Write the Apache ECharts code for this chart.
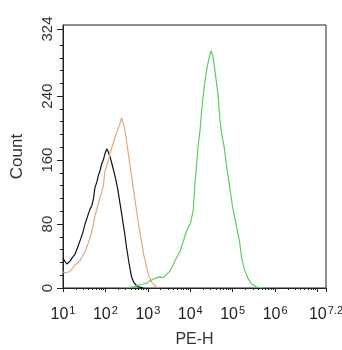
<!DOCTYPE html>
<html>
<head>
<meta charset="utf-8">
<style>
  html, body { margin: 0; padding: 0; background: #fff; }
  #main { width: 342px; height: 350px; }
</style>
</head>
<body>
<div id="main"></div>
<script src="https://cdn.jsdelivr.net/npm/echarts@6/dist/echarts.min.js"></script>
<script type="text/javascript">
    // x = decade exponent (PE-H = 10^x), y = count
    var blackX = [1.00, 1.05, 1.09, 1.13, 1.17, 1.22, 1.28, 1.34, 1.40, 1.46, 1.52, 1.57, 1.60, 1.64, 1.68, 1.72, 1.75, 1.80, 1.84, 1.87, 1.91, 1.95, 1.99, 2.03, 2.06, 2.11, 2.17, 2.23, 2.29, 2.34, 2.38, 2.42, 2.46, 2.50, 2.53, 2.56, 2.59, 2.62, 2.67, 2.74, 2.81, 2.89];
    var blackY = [37, 33, 30, 32, 34, 38, 42, 50, 59, 68, 80, 88, 93, 99, 103, 112, 125, 133, 142, 146, 155, 160, 168, 174, 171, 164, 152, 139, 124, 107, 94, 80, 66, 50, 40, 30, 21, 13, 7, 2.5, 1, 0];

    var orangeX = [1.00, 1.06, 1.12, 1.17, 1.23, 1.28, 1.34, 1.40, 1.46, 1.52, 1.58, 1.64, 1.70, 1.75, 1.81, 1.87, 1.91, 1.95, 1.99, 2.03, 2.07, 2.13, 2.19, 2.25, 2.30, 2.34, 2.38, 2.42, 2.46, 2.50, 2.54, 2.58, 2.62, 2.66, 2.70, 2.74, 2.78, 2.82, 2.86, 2.90, 2.94, 2.98, 3.02, 3.09, 3.17, 3.24];
    var orangeY = [20, 19, 20, 21, 25, 29, 31, 34, 40, 45, 54, 63, 76, 89, 101, 113, 119, 128, 147, 152, 160, 172, 182, 192, 200, 205, 213, 206, 197, 183, 168, 153, 139, 124, 109, 95, 80, 67, 55, 42, 34, 24, 16, 7, 2.5, 0];

    var greenX = [2.46, 2.60, 2.70, 2.80, 2.89, 2.97, 3.05, 3.13, 3.21, 3.29, 3.35, 3.40, 3.46, 3.52, 3.58, 3.64, 3.70, 3.76, 3.80, 3.84, 3.88, 3.92, 3.96, 4.00, 4.03, 4.07, 4.11, 4.15, 4.19, 4.23, 4.27, 4.31, 4.35, 4.40, 4.45, 4.49, 4.53, 4.56, 4.61, 4.66, 4.70, 4.74, 4.80, 4.86, 4.91, 4.94, 5.00, 5.04, 5.08, 5.12, 5.16, 5.21, 5.25, 5.29, 5.37, 5.45, 5.57, 5.71];
    var greenY = [0, 1, 2, 4, 5, 6, 9, 11, 13, 14, 13, 15, 18, 21, 27, 34, 40, 46, 53, 59, 66, 72, 77, 80, 82, 97, 130, 155, 180, 197, 222, 243, 260, 277, 289, 297, 291, 281, 260, 239, 210, 193, 176, 151, 134, 122, 101, 90, 80, 69, 59, 38, 29, 21, 11, 5, 1, 0];

    var xTicks = [1, 2, 3, 4, 5, 6, 7, 7.2];
    var xLabels = [1, 2, 3, 4, 5, 6, 7.2];
    var yMajor = [0, 80, 160, 240, 324];
    var yMinor = [16, 32, 48, 64, 96, 112, 128, 144, 176, 192, 208, 224, 256, 272, 288, 304];

    // log minor ticks (2..9 in each decade)
    var xMinor = [];
    for (var d = 1; d < 8; d++) {
        for (var k = 2; k <= 9; k++) {
            var v = d + Math.log10(k);
            if (v < 7.2) xMinor.push(v);
        }
    }

    function pairs(xs, ys) {
        return xs.map(function (x, i) { return [x, ys[i]]; });
    }

    var font = 'Liberation Sans, Arial, sans-serif';
    var myChart = echarts.init(document.getElementById('main'));

    var option = {
        animation: false,
        grid: {
            left: 63, right: 16, top: 25, bottom: 62,
            outerBoundsMode: 'none',
            show: true, borderColor: '#222', borderWidth: 1
        },
        xAxis: [{
            type: 'value', min: 1, max: 7.2, position: 'bottom',
            name: 'PE-H', nameLocation: 'middle', nameGap: 44,
            nameTextStyle: { fontSize: 16, color: '#333', fontFamily: font },
            axisLine: { lineStyle: { color: '#222' } },
            axisTick: { customValues: xTicks, length: 4, lineStyle: { color: '#222' } },
            splitLine: { show: false },
            axisLabel: {
                customValues: xLabels, margin: 17, color: '#222', fontFamily: font,
                showMaxLabel: true, hideOverlap: false,
                formatter: function (v) {
                    return '{b|10}{s|' + (Math.round(v * 10) / 10) + '}';
                },
                rich: {
                    b: { fontSize: 16, fontFamily: font, color: '#222' },
                    s: { fontSize: 11, fontFamily: font, color: '#222', verticalAlign: 'top', padding: [0, 0, 8, 1] }
                }
            }
        }, {
            type: 'value', min: 1, max: 7.2, position: 'bottom',
            axisLine: { show: false },
            axisTick: { customValues: xMinor, length: 2, lineStyle: { color: '#222' } },
            axisLabel: { show: false },
            splitLine: { show: false }
        }],
        yAxis: [{
            type: 'value', min: 0, max: 329, position: 'left',
            name: 'Count', nameLocation: 'middle', nameGap: 37,
            nameTextStyle: { fontSize: 17, color: '#333', fontFamily: font },
            axisLine: { show: true, lineStyle: { color: '#222' } },
            axisTick: { show: true, customValues: yMajor, length: 6, lineStyle: { color: '#222' } },
            splitLine: { show: false },
            axisLabel: {
                customValues: yMajor, rotate: 90, margin: 8,
                fontSize: 15, color: '#333', fontFamily: font
            }
        }, {
            type: 'value', min: 0, max: 329, position: 'left',
            axisLine: { show: false },
            axisTick: { show: true, customValues: yMinor, length: 3, lineStyle: { color: '#222' } },
            axisLabel: { show: false },
            splitLine: { show: false }
        }],
        series: [{
            type: 'line', data: pairs(blackX, blackY), showSymbol: false,
            lineStyle: { color: '#111', width: 1.2 }
        }, {
            type: 'line', data: pairs(orangeX, orangeY), showSymbol: false,
            lineStyle: { color: '#e6a878', width: 1.2 }
        }, {
            type: 'line', data: pairs(greenX, greenY), showSymbol: false,
            lineStyle: { color: '#5ccf5c', width: 1.2 }
        }]
    };

    myChart.setOption(option);
</script>
</body>
</html>
